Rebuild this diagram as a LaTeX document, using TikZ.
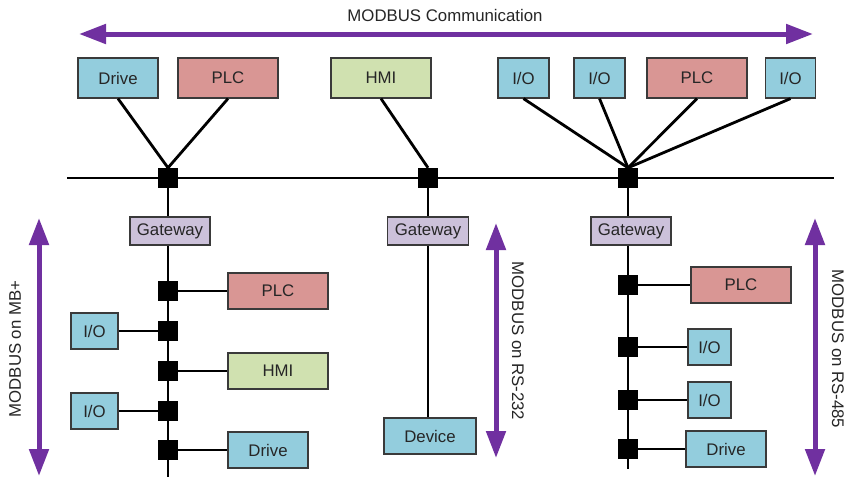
\documentclass[tikz,border=0pt]{standalone}
\usepackage{fontspec}
\setmainfont{Liberation Sans}
\usetikzlibrary{arrows.meta}
\definecolor{cyanbox}{HTML}{93CDDD}
\definecolor{plcbox}{HTML}{D99694}
\definecolor{hmibox}{HTML}{D0E1B0}
\definecolor{gatebox}{HTML}{CCC1DA}
\definecolor{mpurple}{HTML}{7030A0}
\definecolor{edgegray}{HTML}{3A3A3A}
\tikzset{
  box/.style={draw=edgegray, line width=1.2pt, inner sep=0pt, font=\fontsize{16.8}{19}\selectfont, text=black!85},
  cy/.style={box, fill=cyanbox},
  plc/.style={box, fill=plcbox},
  hmi/.style={box, fill=hmibox},
  gate/.style={box, fill=gatebox, minimum height=28},
  junc/.style={fill=black, minimum size=20, inner sep=0pt},
  wire/.style={line width=2.8pt, black},
  swire/.style={line width=2.4pt, black},
  span/.style={line width=5pt, mpurple, {Triangle[length=27pt,width=19pt]}-{Triangle[length=27pt,width=19pt]}},
  lab/.style={font=\fontsize{16.8}{19}\selectfont, text=black!85, inner sep=0pt}
}
\begin{document}
\begin{tikzpicture}[x=1pt,y=-1pt]
\path[use as bounding box, fill=white] (0,0) rectangle (850,477);

% top arrow
\coordinate (ta) at (79,34);
\coordinate (tb) at (813,34);
\draw[span] (ta) -- (tb);
\node[lab] (tlab) at (445,15) {MODBUS Communication};

% top boxes
\node[cy,  minimum width=80,  minimum height=40] (tDrive) at (118,78) {Drive};
\node[plc, minimum width=100, minimum height=40] (tPLC)   at (228,78) {PLC};
\node[hmi, minimum width=100, minimum height=40] (tHMI)   at (381,78) {HMI};
\node[cy,  minimum width=51,  minimum height=40] (tIOa)   at (523.5,78) {I/O};
\node[cy,  minimum width=51,  minimum height=40] (tIOb)   at (599.5,78) {I/O};
\node[plc, minimum width=100, minimum height=40] (tPLCb)  at (697,78) {PLC};
\node[cy,  minimum width=50,  minimum height=40] (tIOc)   at (790.5,78) {I/O};

% bus
\coordinate (busL) at (67,178);
\coordinate (busR) at (834,178);
\draw[wire] (busL) -- (busR);
\node[junc] (j1) at (168,178) {};
\node[junc] (j2) at (428,178) {};
\node[junc] (j3) at (628,178) {};

\draw[wire] (tDrive.south) -- (j1.north);
\draw[wire] (tPLC.south) -- (j1.north);
\draw[wire] (tHMI.south) -- (j2.north);
\draw[wire] (tIOa.south) -- (j3.north);
\draw[wire] (tIOb.south) -- (j3.north);
\draw[wire] (tPLCb.south) -- (j3.north);
\draw[wire] (tIOc.south) -- (j3.north);

% left branch
\coordinate (lEnd) at (168,477);
\draw[swire] (j1.south) -- (lEnd);
\node[gate, minimum width=80] (g1) at (170,231) {Gateway};
\node[junc] (l1) at (168,291) {};
\node[junc] (l2) at (168,331) {};
\node[junc] (l3) at (168,371) {};
\node[junc] (l4) at (168,411) {};
\node[junc] (l5) at (168,450) {};
\node[plc, minimum width=100, minimum height=36] (lPLC)   at (278,291) {PLC};
\node[cy,  minimum width=47,  minimum height=36] (lIOa)   at (94.5,331) {I/O};
\node[hmi, minimum width=100, minimum height=36] (lHMI)   at (278,371) {HMI};
\node[cy,  minimum width=47,  minimum height=36] (lIOb)   at (94.5,411) {I/O};
\node[cy,  minimum width=80,  minimum height=36] (lDrive) at (268,450) {Drive};
\draw[swire] (l1) -- (l1 -| lPLC.west);
\draw[swire] (l2) -- (l2 -| lIOa.east);
\draw[swire] (l3) -- (l3 -| lHMI.west);
\draw[swire] (l4) -- (l4 -| lIOb.east);
\draw[swire] (l5) -- (l5 -| lDrive.west);

% middle branch
\node[cy, minimum width=92, minimum height=36] (dev) at (430,436) {Device};
\draw[swire] (j2.south) -- (j2 |- dev.north);
\node[gate, minimum width=81] (g2) at (428,231) {Gateway};

% right branch
\coordinate (rEnd) at (628,469);
\draw[swire] (j3.south) -- (rEnd);
\node[gate, minimum width=80] (g3) at (631,231) {Gateway};
\node[junc] (r1) at (628,285) {};
\node[junc] (r2) at (628,347) {};
\node[junc] (r3) at (628,400) {};
\node[junc] (r4) at (628,449) {};
\node[plc, minimum width=100, minimum height=36] (rPLC)   at (741,285) {PLC};
\node[cy,  minimum width=43,  minimum height=36] (rIOa)   at (709.5,347) {I/O};
\node[cy,  minimum width=43,  minimum height=36] (rIOb)   at (709.5,400) {I/O};
\node[cy,  minimum width=80,  minimum height=36] (rDrive) at (726,449) {Drive};
\draw[swire] (r1) -- (r1 -| rPLC.west);
\draw[swire] (r2) -- (r2 -| rIOa.west);
\draw[swire] (r3) -- (r3 -| rIOb.west);
\draw[swire] (r4) -- (r4 -| rDrive.west);

% side arrows
\coordinate (la) at (39,218);
\coordinate (lb) at (39,476);
\draw[span] (la) -- (lb);
\node[lab, rotate=90] (llab) at (15,349) {MODBUS on MB+};

\coordinate (ma) at (496,223);
\coordinate (mb) at (496,458);
\draw[span] (ma) -- (mb);
\node[lab, rotate=-90] (mlab) at (518,341) {MODBUS on RS-232};

\coordinate (ra) at (815,218);
\coordinate (rb) at (815,476);
\draw[span] (ra) -- (rb);
\node[lab, rotate=-90] (rlab) at (838,349) {MODBUS on RS-485};
\end{tikzpicture}
\end{document}
